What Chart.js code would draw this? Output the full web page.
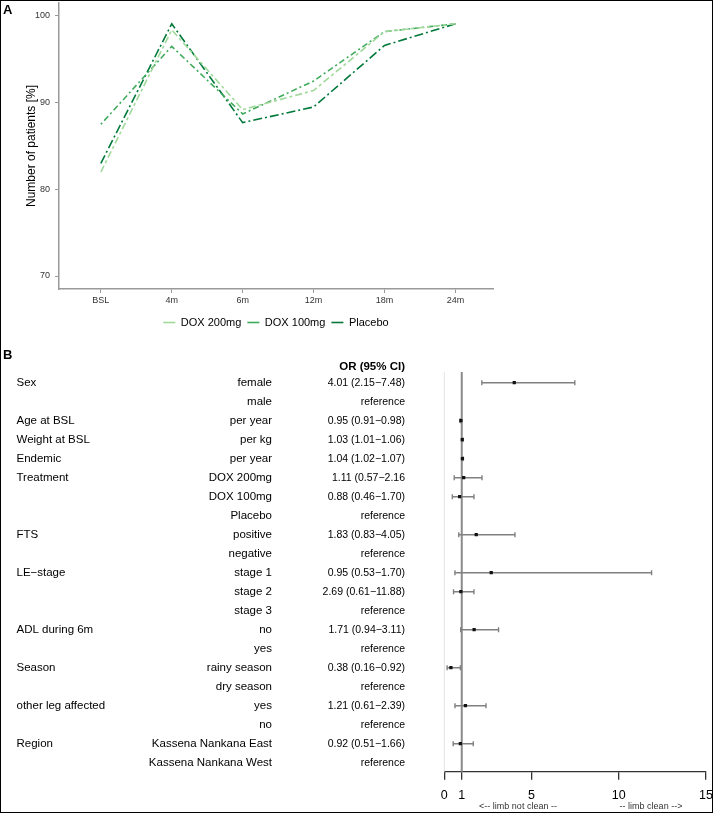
<!DOCTYPE html>
<html>
<head>
<meta charset="utf-8">
<script src="https://cdn.jsdelivr.net/npm/chart.js@4.4.1/dist/chart.umd.min.js"></script>
<style>
  html, body { margin: 0; padding: 0; background: #fff; }
  body { position: relative; width: 714px; height: 814px; overflow: hidden; font-family: "Liberation Sans", Arial, sans-serif; }
  canvas { position: absolute; left: 0; }
  #chartA { top: 0; }
  #chartB { top: 340px; }
  .panel { position: absolute; left: 3px; font-weight: bold; font-size: 13px; color: #000; }
  #frame { position: absolute; left: 0; top: 0; width: 713px; height: 813px; box-sizing: border-box; border: 1.5px solid #000; pointer-events: none; }
</style>
</head>
<body>
<canvas id="chartA" width="552" height="340"></canvas>
<canvas id="chartB" width="714" height="474"></canvas>
<div class="panel" style="top:2px">A</div>
<div class="panel" style="top:347px">B</div>
<div id="frame"></div>
<script>
// panel A data
const timepoints = ['BSL', '4m', '6m', '12m', '18m', '24m'];
const dox200 = [82.0, 98.4, 89.2, 91.4, 98.2, 99.1];
const dox100 = [87.5, 96.5, 88.7, 92.5, 98.2, 99.1];
const placebo = [83.0, 99.1, 87.7, 89.5, 96.6, 99.1];
const yTicksA = [70, 80, 90, 100];

// panel B data (table rows)
const groups = ['Sex', '', 'Age at BSL', 'Weight at BSL', 'Endemic', 'Treatment', '', '', 'FTS', '', 'LE\u2212stage', '', '',
  'ADL during 6m', '', 'Season', '', 'other leg affected', '', 'Region', ''];
const levels = ['female', 'male', 'per year', 'per kg', 'per year', 'DOX 200mg', 'DOX 100mg', 'Placebo', 'positive', 'negative',
  'stage 1', 'stage 2', 'stage 3', 'no', 'yes', 'rainy season', 'dry season', 'yes', 'no', 'Kassena Nankana East', 'Kassena Nankana West'];
const orText = ['4.01 (2.15\u22127.48)', 'reference', '0.95 (0.91\u22120.98)', '1.03 (1.01\u22121.06)', '1.04 (1.02\u22121.07)',
  '1.11 (0.57\u22122.16', '0.88 (0.46\u22121.70)', 'reference', '1.83 (0.83\u22124.05)', 'reference', '0.95 (0.53\u22121.70)',
  '2.69 (0.61\u221211.88)', 'reference', '1.71 (0.94\u22123.11)', 'reference', '0.38 (0.16\u22120.92)', 'reference',
  '1.21 (0.61\u22122.39)', 'reference', '0.92 (0.51\u22121.66)', 'reference'];

// forest marks as drawn in the plot
const plotRows = [0, 2, 3, 4, 5, 6, 8, 10, 11, 13, 15, 17, 19];
const orEst = [4.01, 0.95, 1.03, 1.04, 1.11, 0.88, 1.83, 2.69, 0.95, 1.71, 0.38, 1.21, 0.92];
const ciLow = [2.15, 0.91, 1.01, 1.02, 0.57, 0.46, 0.83, 0.61, 0.53, 0.94, 0.16, 0.61, 0.51];
const ciHigh = [7.48, 0.98, 1.06, 1.07, 2.16, 1.70, 4.05, 11.88, 1.70, 3.11, 0.92, 2.39, 1.66];
const orTicks = [0, 1, 5, 10, 15];

const FONT = '"Liberation Sans", Arial, sans-serif';
Chart.defaults.font.family = FONT;

const toXY = arr => arr.map((v, i) => ({ x: i, y: v }));

// chart A
new Chart(document.getElementById('chartA'), {
    type: 'line',
    data: {
        datasets: [{
            label: 'DOX 200mg',
            data: toXY(dox200),
            borderColor: '#a1d99b',
            backgroundColor: 'transparent',
            borderDash: [7, 3, 3, 3],
            borderWidth: 1.6,
            pointRadius: 0,
            tension: 0
        },
        {
            label: 'DOX 100mg',
            data: toXY(dox100),
            borderColor: '#41ab5d',
            backgroundColor: 'transparent',
            borderDash: [2, 3, 6, 3],
            borderWidth: 1.6,
            pointRadius: 0,
            tension: 0
        },
        {
            label: 'Placebo',
            data: toXY(placebo),
            borderColor: '#00793a',
            backgroundColor: 'transparent',
            borderDash: [9, 3, 2, 3],
            borderWidth: 1.6,
            pointRadius: 0,
            tension: 0
        }]
    },
    options: {
        responsive: false,
        animation: false,
        layout: { padding: { left: 0, right: 59, top: 3, bottom: 2 } },
        plugins: {
            tooltip: { enabled: false },
            legend: {
                position: 'bottom',
                fullSize: false,
                labels: {
                    usePointStyle: true,
                    pointStyle: 'line',
                    pointStyleWidth: 12,
                    boxHeight: 11,
                    color: '#000',
                    padding: 6,
                    font: { size: 11 }
                }
            }
        },
        scales: {
            x: {
                type: 'linear',
                min: -0.59,
                max: 5.53,
                afterBuildTicks: s => { s.ticks = timepoints.map((t, i) => ({ value: i })); },
                afterFit: s => { s.height = 22; },
                ticks: { callback: v => timepoints[v], color: '#333', font: { size: 9 }, padding: 2, autoSkip: false, maxRotation: 0 },
                grid: { drawOnChartArea: false, color: '#999', tickLength: 4 },
                border: { color: '#999', width: 1.5 }
            },
            y: {
                min: 68.5,
                max: 101.5,
                afterBuildTicks: s => { s.ticks = yTicksA.map(v => ({ value: v })); },
                afterFit: s => { s.width = 59; s.paddingTop = 0; s.paddingBottom = 0; },
                ticks: { color: '#333', font: { size: 9 }, padding: 5 },
                grid: { drawOnChartArea: false, color: '#999', tickLength: 4 },
                border: { color: '#999', width: 1.5 },
                title: { display: true, text: 'Number of patients [%]', color: '#000', font: { size: 12 }, padding: { top: 24, bottom: 0 } }
            }
        }
    }
});

// forest plot extras: reference line, CI bars, table text
const forestPlugin = {
    id: 'forest',
    beforeDatasetsDraw(chart) {
        const ctx = chart.ctx, xs = chart.scales.x, ys = chart.scales.y, area = chart.chartArea;
        ctx.save();
        ctx.strokeStyle = '#e3e3e3';
        ctx.lineWidth = 1;
        ctx.beginPath();
        ctx.moveTo(xs.getPixelForValue(0), area.top);
        ctx.lineTo(xs.getPixelForValue(0), area.bottom);
        ctx.stroke();
        ctx.strokeStyle = '#8a8a8a';
        ctx.lineWidth = 2;
        ctx.beginPath();
        ctx.moveTo(xs.getPixelForValue(1), area.top);
        ctx.lineTo(xs.getPixelForValue(1), area.bottom);
        ctx.stroke();
        ctx.strokeStyle = '#808080';
        ctx.lineWidth = 1.4;
        plotRows.forEach((r, i) => {
            const y = ys.getPixelForValue(r);
            const x0 = xs.getPixelForValue(ciLow[i]), x1 = xs.getPixelForValue(ciHigh[i]);
            ctx.beginPath();
            ctx.moveTo(x0, y); ctx.lineTo(x1, y);
            ctx.moveTo(x0, y - 2.5); ctx.lineTo(x0, y + 2.5);
            ctx.moveTo(x1, y - 2.5); ctx.lineTo(x1, y + 2.5);
            ctx.stroke();
        });
        ctx.restore();
    },
    afterDraw(chart) {
        const ctx = chart.ctx, ys = chart.scales.y;
        ctx.save();
        ctx.fillStyle = '#000';
        ctx.textBaseline = 'middle';
        ctx.font = 'bold 11.5px ' + FONT;
        ctx.textAlign = 'right';
        ctx.fillText('OR (95% CI)', 405, ys.getPixelForValue(-0.85));
        groups.forEach((g, i) => {
            const y = ys.getPixelForValue(i);
            ctx.font = '11.5px ' + FONT;
            ctx.textAlign = 'left';
            ctx.fillText(g, 16.5, y);
            ctx.textAlign = 'right';
            ctx.fillText(levels[i], 272, y);
            ctx.font = '10.5px ' + FONT;
            ctx.fillText(orText[i], 405, y);
        });
        ctx.font = '9px ' + FONT;
        ctx.textAlign = 'center';
        ctx.fillStyle = '#333';
        ctx.fillText('<-- limb not clean --', 518, 467);
        ctx.fillText('-- limb clean -->', 651, 467);
        ctx.restore();
    }
};

// chart B
new Chart(document.getElementById('chartB'), {
    type: 'scatter',
    data: {
        datasets: [{
            data: plotRows.map((r, i) => ({ x: orEst[i], y: r })),
            pointStyle: 'rect',
            pointRadius: 2.3,
            backgroundColor: '#111',
            borderWidth: 0
        }]
    },
    options: {
        responsive: false,
        animation: false,
        layout: { padding: { left: 444.3, right: 8, top: 32, bottom: 0 } },
        plugins: { legend: { display: false }, tooltip: { enabled: false } },
        scales: {
            x: {
                type: 'linear',
                min: 0,
                max: 15,
                afterBuildTicks: s => { s.ticks = orTicks.map(v => ({ value: v })); },
                afterFit: s => { s.height = 42.3; s.paddingLeft = 0; s.paddingRight = 0; },
                ticks: { color: '#000', font: { size: 12.5 }, padding: 8, autoSkip: false, maxRotation: 0 },
                grid: { drawOnChartArea: false, color: '#333', tickLength: 8, lineWidth: 1.3 },
                border: { color: '#333', width: 1.3 }
            },
            y: { display: false, reverse: true, min: -0.563, max: 20.474 }
        }
    },
    plugins: [forestPlugin]
});
</script>
</body>
</html>
